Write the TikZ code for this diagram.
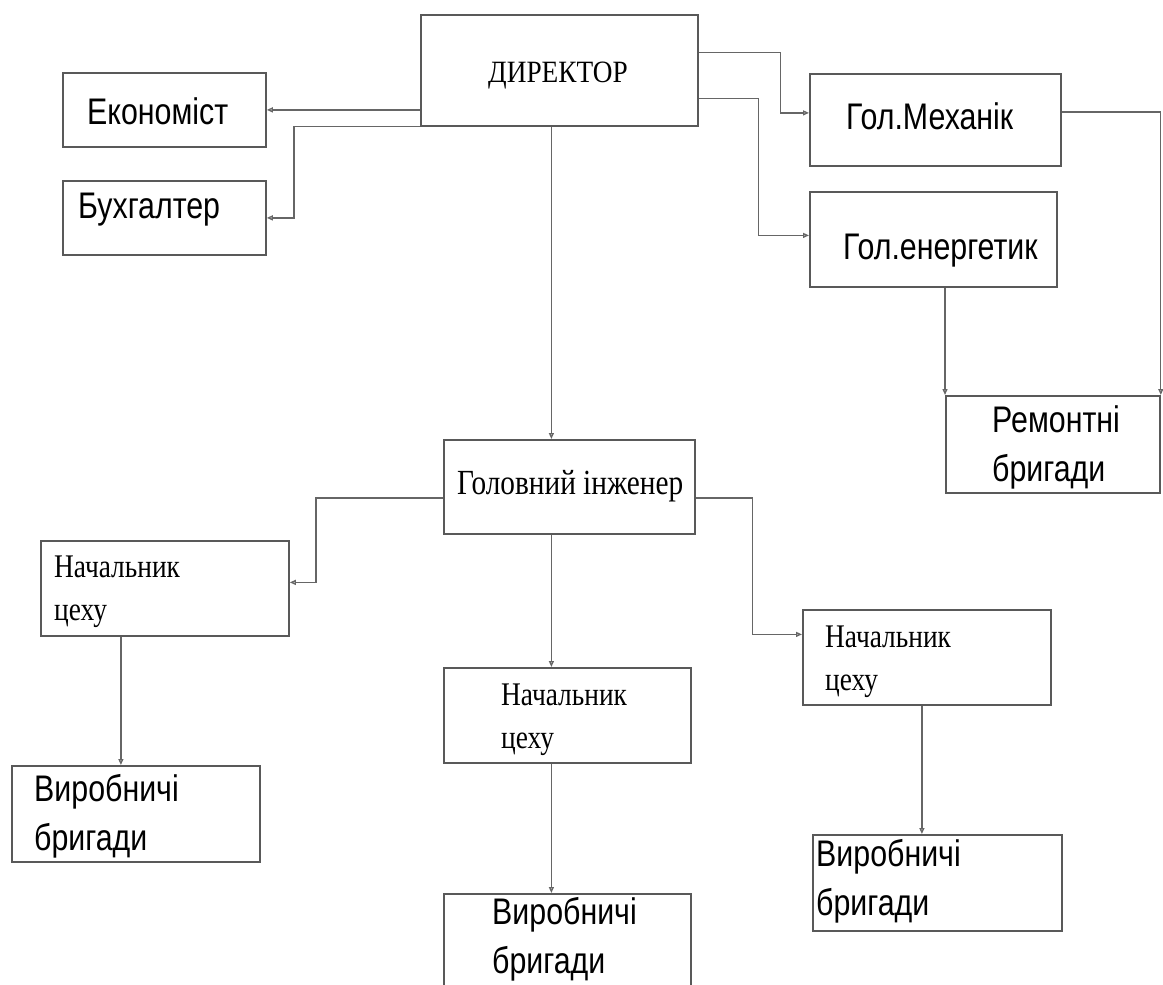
\documentclass[tikz,border=0pt]{standalone}
\usepackage{fontspec}
\usetikzlibrary{arrows.meta,calc}
\newfontfamily\serifcyr[FakeStretch=0.88]{Liberation Serif}
\newfontfamily\serifnarrow[FakeStretch=0.83]{Liberation Serif}
\newfontfamily\sanscyr[FakeStretch=0.82]{Liberation Sans}
\tikzset{
  box/.style={draw=black!65, line width=1.8pt, inner sep=0pt, anchor=north west},
  conn/.style={draw=black!60, line width=1.3pt, -{Triangle[open,length=6pt,width=5pt]}},
  rmtxt/.style={anchor=base west, inner sep=0pt, align=left, font=\serifnarrow\fontsize{33}{43}\selectfont},
  sftxt/.style={anchor=base west, inner sep=0pt, align=left, font=\sanscyr\fontsize{37}{49}\selectfont},
}
\begin{document}
\begin{tikzpicture}[x=1pt,y=-1pt]
    \useasboundingbox (0,0) rectangle (1163,985);
    \clip (0,0) rectangle (1163,985);
    % boxes
    \node[box, minimum width=277pt, minimum height=111pt] (dir)  at (420,14)  {};
    \node[box, minimum width=203pt, minimum height=74pt]  (eco)  at (62,72)   {};
    \node[box, minimum width=203pt, minimum height=74pt]  (buh)  at (62,180)  {};
    \node[box, minimum width=251pt, minimum height=92pt]  (mech) at (809,73)  {};
    \node[box, minimum width=247pt, minimum height=95pt]  (ener) at (809,191) {};
    \node[box, minimum width=214pt, minimum height=97pt]  (rem)  at (945,395) {};
    \node[box, minimum width=251pt, minimum height=94pt]  (eng)  at (443,439) {};
    \node[box, minimum width=248pt, minimum height=95pt]  (n1)   at (40,540)  {};
    \node[box, minimum width=247pt, minimum height=95pt]  (n2)   at (443,667) {};
    \node[box, minimum width=248pt, minimum height=95pt]  (n3)   at (802,609) {};
    \node[box, minimum width=248pt, minimum height=96pt]  (vb1)  at (11,765)  {};
    \node[box, minimum width=247pt, minimum height=110pt] (vb2)  at (443,893) {};
    \node[box, minimum width=249pt, minimum height=96pt]  (vb3)  at (812,834) {};
    % texts (two-line texts sit on their last baseline)
    \node[rmtxt, font=\serifcyr\fontsize{31}{43}\selectfont] (dirt) at (488,82) {ДИРЕКТОР};
    \node[sftxt] (ecot)  at (87,124)  {Економіст};
    \node[sftxt] (buht)  at (78,218)  {Бухгалтер};
    \node[sftxt] (mecht) at (846,129) {Гол.Механік};
    \node[sftxt] (enert) at (843,259) {Гол.енергетик};
    \node[sftxt] (remt)  at (992,481) {Ремонтні\\бригади};
    \node[rmtxt, font=\serifnarrow\fontsize{35.3}{43}\selectfont] (engt) at (457,494) {Головний інженер};
    \node[rmtxt] (n1t)   at (54,620)  {Начальник\\цеху};
    \node[rmtxt] (n2t)   at (501,748) {Начальник\\цеху};
    \node[rmtxt] (n3t)   at (825,690) {Начальник\\цеху};
    \node[sftxt] (vb1t)  at (34,850)  {Виробничі\\бригади};
    \node[sftxt] (vb2t)  at (492,973) {Виробничі\\бригади};
    \node[sftxt] (vb3t)  at (816,915) {Виробничі\\бригади};
    % director to staff
    \draw[conn] (eco.east -| dir.west) -- (eco.east);
    \draw[conn] (dir.south west) -- ++(-126,0) |- (buh.east);
    \draw[conn] ($(dir.east)+(0,-18)$) -- ++(82,0) |- ($(mech.west)+(0,-7)$);
    \draw[conn] ($(dir.east)+(0,28)$) -- ++(60,0) |- ($(ener.west)+(0,-4)$);
    \draw[conn] ($(mech.east)+(0,-8)$) -| (rem.north east);
    \draw[conn] (ener.south -| rem.north west) -- (rem.north west);
    % main line down
    \coordinate (trunk) at ($(dir.south)+(-8,0)$);
    \draw[conn] (trunk) -- (trunk |- eng.north);
    \draw[conn] (trunk |- eng.south) -- (trunk |- n2.north);
    \draw[conn] (trunk |- n2.south) -- (trunk |- vb2.north);
    % engineer to workshops
    \draw[conn] ($(eng.west)+(0,11)$) -- ++(-127,0) |- ($(n1.east)+(0,-6)$);
    \draw[conn] ($(eng.east)+(0,11)$) -- ++(57,0) |- ($(n3.west)+(0,-23)$);
    \coordinate (b1) at ($(n1.south)+(-44,0)$);
    \draw[conn] (b1) -- (b1 |- vb1.north);
    \coordinate (b3) at ($(n3.south)+(-5,0)$);
    \draw[conn] (b3) -- (b3 |- vb3.north);
\end{tikzpicture}
\end{document}
